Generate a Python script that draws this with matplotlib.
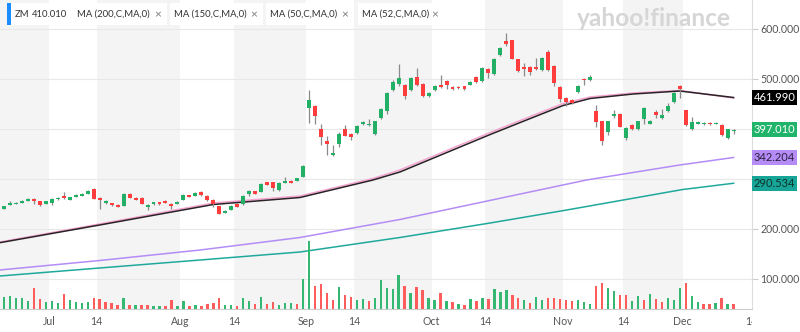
import matplotlib
matplotlib.use('Agg')
import matplotlib.pyplot as plt
from matplotlib.patches import Rectangle
from matplotlib.transforms import Bbox, TransformedBbox
import numpy as np

plt.rcParams['font.family'] = ['Lato', 'DejaVu Sans']

# daily candles, 19 Jun 2020 .. 11 Dec 2020 (trading-day index)
OPEN = [240, 248, 250, 252, 256, 260, 255, 250, 252, 259, 265, 258, 264, 266, 270, 280, 262, 251, 251, 248,
        246, 269, 262, 262, 244, 249, 253, 256, 250, 250, 258, 267, 266, 273, 266, 258, 245, 232, 238, 249,
        249, 269, 275, 274, 293, 293, 277, 292, 296, 296, 304, 442, 446, 400, 376, 348, 369, 400, 390, 392,
        410, 407, 389, 422, 436, 478, 489, 488, 477, 504, 490, 466, 478, 487, 495, 483, 484, 485, 488, 504,
        496, 520, 510, 547, 575, 577, 539, 524, 524, 524, 517, 554, 526, 484, 462, 457, 474, 500, 497, 435,
        415, 394, 426, 430, 382, 408, 400, 419, 410, 434, 422, 436, 454, 486, 437, 399, 410, 409, 412, 410,
        408, 382, 396]
HIGH = [246, 255, 253, 258, 261, 262, 256, 256, 262, 264, 274, 264, 269, 271, 277, 281, 263, 257, 252, 249,
        271, 271, 263, 263, 249, 254, 254, 257, 251, 255, 269, 268, 274, 275, 267, 259, 246, 237, 247, 252,
        267, 277, 276, 291, 294, 294, 293, 304, 297, 302, 327, 478, 448, 410, 386, 367, 393, 407, 392, 407,
        416, 419, 416, 442, 473, 497, 530, 490, 503, 522, 491, 474, 487, 508, 497, 485, 486, 486, 496, 505,
        523, 522, 541, 563, 592, 578, 540, 532, 526, 542, 543, 557, 527, 486, 464, 460, 488, 502, 508, 447,
        416, 416, 437, 431, 403, 410, 416, 443, 417, 438, 440, 452, 474, 488, 438, 424, 416, 413, 413, 414,
        409, 400, 399]
LOW = [239, 247, 249, 251, 255, 250, 245, 249, 248, 258, 260, 257, 263, 265, 269, 259, 240, 250, 246, 243,
       245, 261, 257, 249, 238, 248, 248, 251, 240, 249, 257, 263, 265, 266, 256, 244, 229, 231, 237, 243,
       248, 266, 269, 273, 287, 276, 276, 291, 291, 295, 303, 412, 410, 368, 347, 346, 364, 385, 377, 390,
       408, 405, 388, 420, 430, 476, 486, 460, 475, 486, 463, 464, 476, 482, 479, 478, 479, 478, 487, 492,
       494, 502, 508, 545, 566, 539, 514, 506, 508, 518, 516, 516, 485, 454, 445, 450, 472, 487, 495, 404,
       367, 387, 422, 404, 377, 398, 398, 410, 409, 422, 420, 434, 452, 462, 406, 397, 409, 408, 408, 409,
       386, 380, 390]
CLOSE = [245, 252, 252, 256, 260, 256, 248, 255, 260, 262, 261, 263, 268, 270, 276, 260, 257, 256, 247, 244,
         270, 262, 258, 250, 248, 253, 249, 252, 246, 254, 268, 264, 272, 267, 257, 250, 230, 236, 246, 244,
         266, 276, 270, 290, 288, 282, 292, 296, 292, 301, 326, 458, 426, 383, 370, 352, 390, 386, 384, 405,
         414, 410, 415, 440, 472, 494, 502, 466, 502, 488, 466, 472, 485, 484, 487, 480, 481, 480, 494, 493,
         522, 512, 540, 562, 570, 540, 515, 520, 514, 519, 542, 517, 492, 460, 454, 452, 486, 498, 504, 414,
         375, 415, 430, 404, 402, 400, 415, 442, 416, 428, 428, 446, 472, 480, 407, 414, 414, 412, 409, 412,
         387, 399, 397]
VOLUME_M = [5.3, 5.9, 4.8, 5.0, 3.7, 9.4, 4.4, 3.2, 3.4, 2.6, 6.7, 4.1, 3.1, 2.8, 3.1, 4.7, 4.5, 3.1, 2.6, 1.9,
            5.0, 1.9, 1.9, 1.9, 1.9, 1.5, 1.5, 1.5, 4.1, 1.5, 3.4, 1.2, 1.9, 1.5, 2.3, 2.6, 5.0, 1.8, 1.9, 1.5,
            4.7, 3.4, 2.1, 5.2, 2.1, 3.1, 1.9, 2.6, 2.6, 2.3, 13.2, 30.1, 10.3, 11.1, 7.0, 4.1, 9.7, 6.3, 5.3, 4.1,
            4.4, 3.4, 4.8, 12.6, 9.3, 8.9, 15.1, 10.0, 7.0, 9.7, 8.5, 4.7, 4.1, 7.0, 3.7, 3.1, 2.2, 1.8, 4.4, 3.5,
            4.8, 4.4, 8.9, 7.4, 8.4, 6.3, 4.8, 4.1, 2.8, 5.4, 3.8, 4.8, 4.8, 4.5, 4.1, 3.4, 4.1, 3.2, 2.2, 10.0,
            11.6, 9.4, 8.1, 6.3, 6.3, 3.5, 5.7, 4.1, 6.7, 4.5, 3.1, 4.8, 3.8, 9.1, 11.6, 5.9, 3.2, 2.1, 2.1, 2.5,
            4.8, 2.2, 2.2]
VOL_UP = [1, 1, 1, 1, 1, 0, 0, 1, 1, 1, 0, 1, 1, 1, 1, 0, 0, 0, 0, 0,
          1, 0, 1, 0, 0, 1, 1, 0, 0, 1, 1, 0, 1, 0, 0, 0, 0, 1, 1, 0,
          1, 1, 0, 1, 0, 0, 1, 1, 1, 0, 1, 1, 0, 0, 0, 0, 1, 0, 0, 1,
          1, 0, 1, 1, 1, 1, 1, 0, 1, 0, 0, 1, 1, 0, 1, 0, 1, 0, 1, 0,
          1, 0, 1, 1, 1, 0, 0, 1, 0, 1, 1, 0, 0, 0, 0, 0, 1, 1, 1, 0,
          0, 1, 1, 0, 0, 1, 1, 0, 1, 0, 0, 1, 1, 1, 0, 1, 1, 0, 0, 1,
          0, 1, 0]

# moving averages at a few points (x = candle index)
MA200_X = [-0.7, 16, 32.8, 49.5, 66.2, 81.3, 94.1, 113.5, 122]
MA200_Y = [105, 121, 137, 153, 182, 211, 237, 278, 290.5]
MA150_X = [-0.7, 16, 32.8, 49.5, 66.2, 97.4, 113.0, 122]
MA150_Y = [117, 136, 157, 182, 218, 297, 327, 342]
MA50_X = [-0.7, 16, 35, 49.5, 61.7, 66.2, 81.3, 88, 93.5, 98, 105.2, 113, 122]
MA50_Y = [171.6, 207, 248, 262, 297, 313, 388, 420, 446, 460, 469, 475, 462]
MA52_Y = [173, 209, 251, 265, 300, 317, 392, 424, 450, 463, 471, 476, 461]

LAST_MA50 = 461.990
LAST_CLOSE = 397.010
LAST_MA150 = 342.204
LAST_MA200 = 290.534
HEADER_PRICE = '410.010'

TICK_POS = [7.5, 15.5, 29.5, 38.5, 50.5, 58.5, 71.5, 80.5, 93.5, 103.5, 113.5, 125.0]
TICK_LABELS = ['Jul', '14', 'Aug', '14', 'Sep', '14', 'Oct', '14', 'Nov', '14', 'Dec', '14']
PRICE_TICKS = [100, 200, 300, 400, 500, 600]
HIDDEN_TICKS = [300, 400]      # covered by the value flags in the original

GREEN = '#21b066'
RED = '#ff3d3d'
VGREEN = '#35b872'
VRED = '#ff5c5c'

W, H = 800, 332
fig = plt.figure(figsize=(W / 100, H / 100), dpi=100, facecolor='white')
rect = [0, 23 / H, 752 / W, 309 / H]
ax = fig.add_axes(rect)
ax.set_xlim(-0.67, 125.08)
ax.set_ylim(39, 657)

# alternating background bands
ax.axvspan(-2, TICK_POS[0], color='#f4f4f4', lw=0, zorder=0)
for k in range(1, len(TICK_POS) - 1, 2):
    ax.axvspan(TICK_POS[k], TICK_POS[k + 1], color='#f4f4f4', lw=0, zorder=0)

for v in PRICE_TICKS:
    ax.axhline(v, color='#e8e8e8', lw=0.8, zorder=1)

idx = np.arange(len(CLOSE))
o = np.array(OPEN, float); c = np.array(CLOSE, float)
hi = np.array(HIGH, float); lo = np.array(LOW, float)
up = c >= o
ax.vlines(idx, lo, hi, color='#8a8a8a', lw=0.9, zorder=3)
body_lo = np.minimum(o, c)
body_h = np.maximum(np.abs(c - o), 1.6)
ax.bar(idx, body_h, bottom=body_lo, width=0.66,
       color=np.where(up, GREEN, RED), lw=0, zorder=4)

ax.plot(MA200_X, MA200_Y, color='#1fa99b', lw=1.1, zorder=2)
ax.plot(MA150_X, MA150_Y, color='#b48cf7', lw=1.1, zorder=2)
ax.plot(MA50_X, MA52_Y, color='#f4a3cf', lw=1.1, zorder=2)
ax.plot(MA50_X, MA50_Y, color='#2a2226', lw=1.1, zorder=2)

for s in ['top', 'left']:
    ax.spines[s].set_visible(False)
ax.spines['right'].set_color('#dddddd')
ax.spines['bottom'].set_color('#cccccc')
ax.yaxis.tick_right()
ax.set_yticks(PRICE_TICKS)
ax.set_yticklabels(['' if v in HIDDEN_TICKS else '%.3f' % v for v in PRICE_TICKS])
ax.tick_params(axis='y', length=4, width=0.8, color='#cccccc', pad=2,
               labelsize=7.6, labelcolor='#555555')
ax.set_xticks(TICK_POS)
ax.set_xticklabels(TICK_LABELS)
ax.tick_params(axis='x', length=0, pad=5, labelsize=7.6, labelcolor='#555555')
clip = TransformedBbox(Bbox([[0, 0], [752 / W, 1]]), fig.transFigure)
last = ax.get_xticklabels()[-1]
last.set_clip_box(clip)
last.set_clip_on(True)

# volume on its own scale
axv = fig.add_axes(rect, sharex=ax)
axv.set_facecolor('none')
axv.axis('off')
axv.set_ylim(0, 136)
axv.bar(idx, VOLUME_M, width=0.4, lw=0,
        color=[VGREEN if u else VRED for u in VOL_UP])

# value flags on the price axis
trans = ax.get_yaxis_transform()
flags = [(LAST_MA200, '#16a596', '#10302c'), (LAST_MA150, '#b58cf6', '#2a2040'),
         (LAST_CLOSE, '#20b46b', 'white'), (LAST_MA50, '#000000', 'white')]
for val, bg, fg in flags:
    ax.text(1.0 + 1.5 / 752, val, '%.3f' % val, transform=trans, ha='left', va='center',
            fontsize=8, color=fg, zorder=10,
            bbox=dict(boxstyle='square,pad=0.18', fc=bg, ec='none'))


# header legend chips
def chip(x0, x1, text):
    fig.patches.append(Rectangle((x0 / W, 1 - 25 / H), (x1 - x0) / W, 22 / H,
                                 transform=fig.transFigure, fc='white', ec='none', zorder=5))
    fig.text((x0 + 4) / W, 1 - 14.5 / H, text, fontsize=6.8, color='#333333',
             va='center', ha='left', zorder=6)
    fig.text((x1 - 13) / W, 1 - 14.5 / H, '\u00d7', fontsize=8.5, color='#777777',
             va='center', ha='left', zorder=6)


fig.patches.append(Rectangle((7 / W, 1 - 25 / H), 62 / W, 22 / H,
                             transform=fig.transFigure, fc='white', ec='none', zorder=5))
fig.patches.append(Rectangle((7 / W, 1 - 25 / H), 3.5 / W, 22 / H,
                             transform=fig.transFigure, fc='#1a8cff', ec='none', zorder=6))
fig.text(15 / W, 1 - 14.5 / H, 'ZM', fontsize=6.8, color='#333333', va='center', zorder=6)
fig.text(32 / W, 1 - 14.5 / H, HEADER_PRICE, fontsize=6.8, color='#333333', va='center', zorder=6)
chip(73, 167, 'MA (200,C,MA,0)')
chip(170, 263, 'MA (150,C,MA,0)')
chip(266, 354, 'MA (50,C,MA,0)')
chip(358, 444, 'MA (52,C,MA,0)')

fig.text(577 / W, 1 - 18 / H, 'yahoo!finance', fontsize=17.6, fontweight='bold',
         color='#d6d6d6', va='center', ha='left', zorder=6)

fig.savefig('out.png', dpi=100, facecolor='white')
